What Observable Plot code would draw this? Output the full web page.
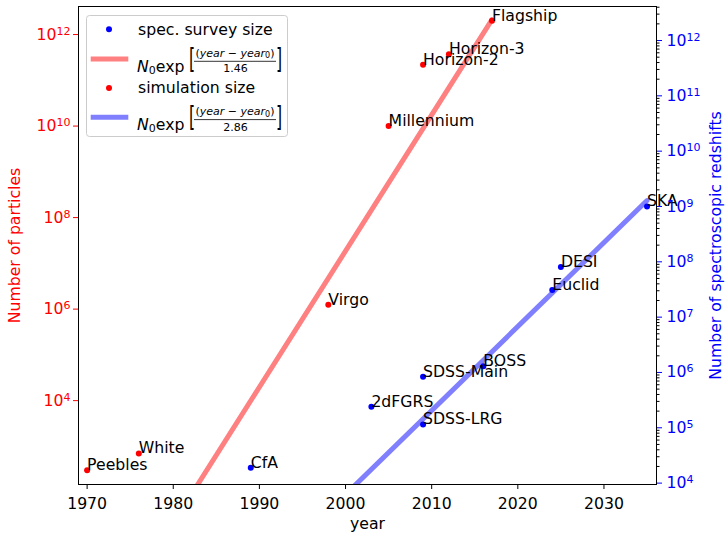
<!DOCTYPE html>
<html><head><meta charset="utf-8">
<script src="https://cdn.jsdelivr.net/npm/d3@7"></script>
<script src="https://cdn.jsdelivr.net/npm/@observablehq/plot@0.6"></script>
<style>
body{margin:0;background:#fff;}
#wrap{position:relative;width:725px;height:533px;font-family:"DejaVu Sans",sans-serif;}
#wrap svg{position:absolute;left:0;top:0;}
</style></head><body><div id="wrap"></div>
<script>
// ---- data ----
const simNames = ["Peebles","White","Virgo","Millennium","Horizon-2","Horizon-3","Flagship"];
const simYears = [1970,1976,1998,2005,2009,2012,2017];
const simSizes = [300,700,1.25e6,1.0e10,2.2e11,3.7e11,2.0e12];

const surveyNames = ["CfA","2dFGRS","SDSS-LRG","SDSS-Main","BOSS","Euclid","DESI","SKA"];
const surveyYears = [1989,2003,2009,2009,2016,2024,2025,2035];
const surveySizes = [1.9e4,2.4e5,1.15e5,8.4e5,1.3e6,3.1e7,8.1e7,1.0e9];

// fitted exponentials (straight on a log axis), read at their ends
const simFitYears = [1970,2017];
const simFitValues = [0.0223,2.12e12];
const surveyFitYears = [1989,2035];
const surveyFitValues = [133,1.28e9];

const xTicks = [1970,1980,1990,2000,2010,2020,2030];
const leftTicks = [1e4,1e6,1e8,1e10,1e12];
const rightTicks = [1e4,1e5,1e6,1e7,1e8,1e9,1e10,1e11,1e12];
const xDomain = [1969,2036.1];
const leftDomain = [147,4.1e12];
const rightDomain = [9440,4.12e12];

const legendLabels = ["spec. survey size","1.46","simulation size","2.86"];

// ---- build ----
const W=725,H=533;
const sims = simNames.map((name,i)=>({name,year:simYears[i],size:simSizes[i]}));
const surveys = surveyNames.map((name,i)=>({name,year:surveyYears[i],size:surveySizes[i]}));
const simFit = simFitYears.map((year,i)=>({year,size:simFitValues[i]}));
const surveyFit = surveyFitYears.map((year,i)=>({year,size:surveyFitValues[i]}));
const supFmt = d => "10^" + Math.round(Math.log10(d));
const FS = 15.7;
const common = {
  width:W,height:H,marginLeft:78,marginRight:69,marginTop:6,marginBottom:49,
  style:{fontFamily:"DejaVu Sans",fontSize:FS+"px",background:"transparent",overflow:"visible"}
};

const p1 = Plot.plot({
  ...common,
  x:{domain:xDomain},
  y:{type:"log",domain:leftDomain},
  marks:[
    Plot.line(simFit,{x:"year",y:"size",stroke:"#ff8080",strokeWidth:5,clip:true}),
    Plot.dot(sims,{x:"year",y:"size",r:3,fill:"red"}),
    Plot.text(sims,{x:"year",y:"size",text:"name",textAnchor:"start",lineAnchor:"bottom",fill:"black",fontSize:FS}),
    Plot.axisX({ticks:xTicks,tickFormat:d3.format("d"),tickSize:5,tickPadding:8,stroke:"black",
      label:"year",labelAnchor:"center",labelOffset:44,labelArrow:"none"}),
    Plot.axisY({anchor:"left",ticks:leftTicks,tickFormat:supFmt,color:"red",tickSize:5,tickPadding:3,
      label:"Number of particles",labelAnchor:"center",labelOffset:70,labelArrow:"none"})
  ]
});

const minorTicks = d3.scaleLog().domain(rightDomain).ticks(30).filter(v=>Math.abs(Math.log10(v)-Math.round(Math.log10(v)))>1e-9);
const p2 = Plot.plot({
  ...common,
  x:{domain:xDomain,axis:null},
  y:{type:"log",domain:rightDomain},
  marks:[
    Plot.line(surveyFit,{x:"year",y:"size",stroke:"#8080ff",strokeWidth:5,clip:true}),
    Plot.dot(surveys,{x:"year",y:"size",r:3,fill:"blue"}),
    Plot.text(surveys,{x:"year",y:"size",text:"name",textAnchor:"start",lineAnchor:"bottom",fill:"black",fontSize:FS}),
    Plot.axisY({anchor:"right",ticks:minorTicks,tickFormat:()=>"",color:"black",tickSize:2.5,label:null}),
    Plot.axisY({anchor:"right",ticks:rightTicks,tickFormat:supFmt,color:"blue",tickSize:5,tickPadding:5,
      label:"Number of spectroscopic redshifts",labelAnchor:"center",labelOffset:64,labelArrow:"none"}),
    Plot.frame({stroke:"black",strokeWidth:1})
  ]
});

function supify(svg){
  d3.select(svg).selectAll("text").each(function(){
    const t=this.textContent;
    if(/^10\^\d+$/.test(t)){
      const [b,e]=t.split("^");
      const s=d3.select(this); s.text(null);
      s.append("tspan").text(b);
      s.append("tspan").attr("dy","-5px").attr("font-size","11px").text(e);
    }
  });
}
supify(p1); supify(p2);
const wrap=document.getElementById("wrap");
wrap.appendChild(p1); wrap.appendChild(p2);

// ---- legend ----
const lg = d3.select(wrap).append("svg").attr("width",W).attr("height",H)
  .style("font-family","DejaVu Sans").style("font-size",FS+"px");
lg.append("rect").attr("x",86.5).attr("y",15.5).attr("width",201).attr("height",121).attr("rx",3)
  .attr("fill","white").attr("fill-opacity",0.8).attr("stroke","#cccccc");
function dotRow(cy,color,label){
  lg.append("circle").attr("cx",109).attr("cy",cy).attr("r",3).attr("fill",color);
  lg.append("text").attr("x",138).attr("y",cy+5.3).attr("fill","black").text(label);
}
function fitRow(cy,color,denom){
  lg.append("line").attr("x1",90.7).attr("x2",128.3).attr("y1",cy).attr("y2",cy).attr("stroke",color).attr("stroke-width",5);
  const base = cy+12.7;
  const t = lg.append("text").attr("x",137).attr("y",base).attr("fill","black");
  t.append("tspan").attr("font-style","italic").text("N");
  t.append("tspan").attr("font-size","11px").attr("dy","2").text("0");
  t.append("tspan").attr("dy","-2").text("exp");
  lg.append("text").attr("x",189).attr("y",base).attr("fill","black")
    .attr("transform",`translate(0,${base}) scale(1,1.75) translate(0,${-base})`).attr("dy","-1.5").text("[");
  lg.append("text").attr("x",276).attr("y",base).attr("fill","black")
    .attr("transform",`translate(0,${base}) scale(1,1.75) translate(0,${-base})`).attr("dy","-1.5").text("]");
  const num = lg.append("text").attr("x",235).attr("y",cy-2.2).attr("text-anchor","middle").attr("font-size","11px").attr("fill","black");
  num.append("tspan").text("(");
  num.append("tspan").attr("font-style","italic").text("year");
  num.append("tspan").text(" \u2212 ");
  num.append("tspan").attr("font-style","italic").text("year");
  num.append("tspan").attr("font-size","8px").attr("dy","1.5").text("0");
  num.append("tspan").attr("dy","-1.5").text(")");
  lg.append("line").attr("x1",194).attr("x2",276).attr("y1",cy+2.3).attr("y2",cy+2.3).attr("stroke","black").attr("stroke-width",0.8);
  lg.append("text").attr("x",235.5).attr("y",base+0.6).attr("text-anchor","middle").attr("font-size","11px").attr("fill","black").text(denom);
}
dotRow(29.3,"blue",legendLabels[0]);
fitRow(59,"#ff8080",legendLabels[1]);
dotRow(88,"red",legendLabels[2]);
fitRow(117.3,"#8080ff",legendLabels[3]);
</script></body></html>
